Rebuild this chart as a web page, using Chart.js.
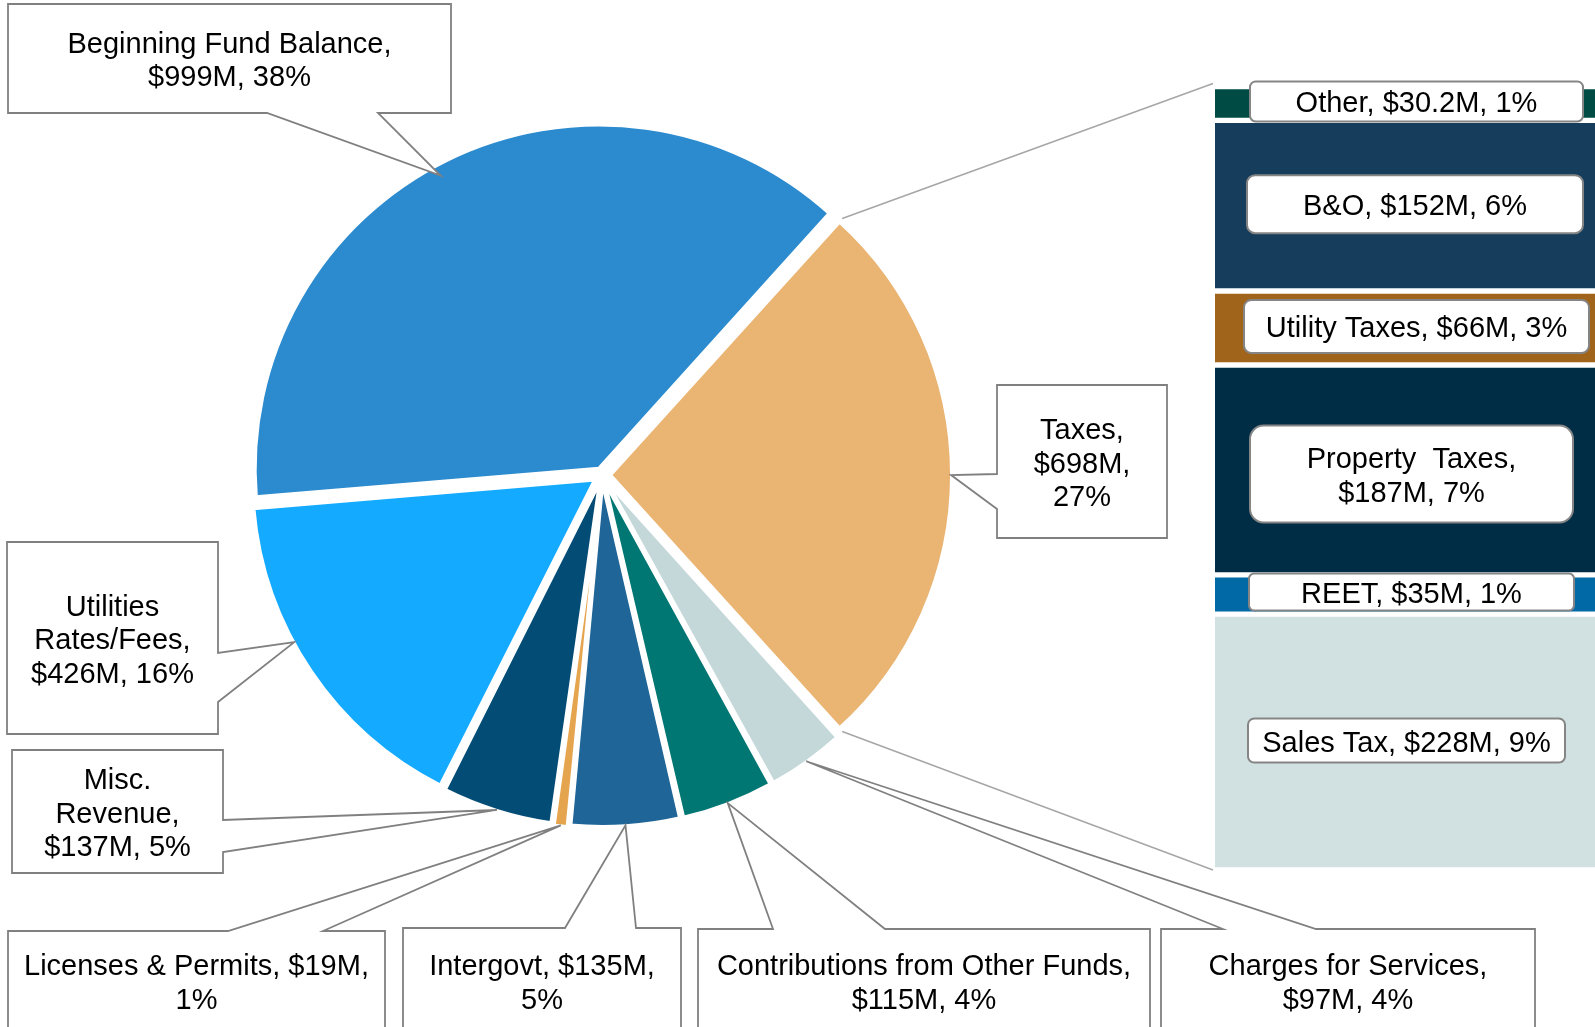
<!DOCTYPE html>
<html>
<head>
<meta charset="utf-8">
<script src="https://cdn.jsdelivr.net/npm/chart.js@4.4.1/dist/chart.umd.min.js"></script>
<style>
  html, body { margin: 0; padding: 0; background: #fff; }
  body { width: 1595px; height: 1027px; position: relative; overflow: hidden; }
  #pie { position: absolute; left: 0; top: 0; }
  #bar { position: absolute; left: 1215px; top: 70px; }
</style>
</head>
<body>
<canvas id="pie" width="1595" height="1027"></canvas>
<canvas id="bar" width="380" height="820"></canvas>
<script>
// pie slices, clockwise starting with Taxes
const pieNames = ['Taxes', 'Charges for Services', 'Contributions from Other Funds', 'Intergovt',
  'Licenses & Permits', 'Misc. Revenue', 'Utilities Rates/Fees', 'Beginning Fund Balance'];
const pieValues = [698, 97, 115, 135, 19, 137, 426, 999]; // $M
const pieColors = ['#eab472', '#c4d8d9', '#017773', '#1f6597', '#e5a54f', '#034c75', '#14aaff', '#2b8bce'];

// taxes breakdown, top to bottom of the column
const taxNames = ['Other', 'B&O', 'Utility Taxes', 'Property  Taxes', 'REET', 'Sales Tax'];
const taxValues = [30.2, 152, 66, 187, 35, 228]; // $M
const taxColors = ['#004c45', '#163d5b', '#a0651b', '#002d46', '#0069a6', '#d1e1e1'];

const total = pieValues.reduce((a, b) => a + b, 0);
const taxTotal = taxValues.reduce((a, b) => a + b, 0);

const FONT = '29px "Liberation Sans", Arial, sans-serif';
const LINE_H = 33.5;
const TEXT_DY = 3;

// layout: how far each slice is pulled out (px)
const shift = [8, 6, 6, 6, 6, 6, 8, 7];
// callout boxes: [x, y, w, h, side of pointer, base1, base2, tip inset, tip angle tweak (deg)]
const callouts = [
  [997, 385, 170, 153, 'left', 474, 509, 0, 0],
  [1161, 929, 374, 104, 'top', 1223, 1316, 0, 0],
  [698, 929, 452, 104, 'top', 773, 885, 0, 0],
  [403, 928, 278, 106, 'top', 565, 636, 0, 0],
  [8, 931, 377, 100, 'top', 228, 323, 0, 0],
  [12, 750, 211, 123, 'right', 820, 852, 0, 0],
  [7, 542, 211, 192, 'right', 653, 702, 0, 5.5],
  [8, 4, 443, 109, 'bottom', 267, 378, 10, -2]
];
// bar label boxes: [w, h, dx, dy]
const taxBoxes = [
  [333, 40, 11.5, -2], [336, 58, 10, -1.5], [345, 53, 11.5, -1.5],
  [323, 97, 6.5, 4], [325, 37, 6.5, -2.5], [317, 44, 1.5, -1.5]
];

const pct = v => Math.round(v / total * 100) + '%';
const labelText = (n, v) => `${n}, $${v}M, ${pct(v)}`;

function wrap(ctx, text, maxW) {
  const words = text.split(' ');
  const lines = [];
  let line = '';
  words.forEach(w => {
    const test = line === '' ? w : line + ' ' + w;
    if (line !== '' && ctx.measureText(test).width > maxW) {
      lines.push(line);
      line = w;
    } else {
      line = test;
    }
  });
  lines.push(line);
  return lines;
}

function drawLines(ctx, lines, cx, cy) {
  ctx.fillStyle = '#000';
  ctx.textAlign = 'center';
  ctx.textBaseline = 'middle';
  const y0 = cy - (lines.length - 1) * LINE_H / 2 + TEXT_DY;
  lines.forEach((l, i) => ctx.fillText(l, cx, y0 + i * LINE_H));
}

const barLabelPlugin = {
  id: 'barLabels',
  afterDatasetsDraw(chart) {
    const ctx = chart.ctx;
    ctx.save();
    ctx.font = FONT;
    taxNames.forEach((name, i) => {
      const el = chart.getDatasetMeta(taxNames.length - 1 - i).data[0];
      const [w, h, dx, dy] = taxBoxes[i];
      const cx = el.x + dx;
      const cy = (el.y + el.base) / 2 + dy;
      ctx.beginPath();
      ctx.roundRect(cx - w / 2, cy - h / 2, w, h, h * 0.14);
      ctx.fillStyle = '#fff';
      ctx.fill();
      ctx.lineWidth = 2;
      ctx.strokeStyle = '#858585';
      ctx.stroke();
      drawLines(ctx, wrap(ctx, labelText(name, taxValues[i]), w - 12), cx, cy);
    });
    ctx.restore();
  }
};

const barChart = new Chart(document.getElementById('bar'), {
  type: 'bar',
  data: {
    labels: ['Taxes'],
    datasets: taxNames.map((n, i) => ({
      label: n,
      data: [taxValues[i]],
      backgroundColor: taxColors[i]
    })).reverse()
  },
  options: {
    responsive: false,
    animation: false,
    layout: { padding: { top: 16.5, bottom: 20, left: 0, right: 0 } },
    datasets: {
      bar: {
        barPercentage: 1,
        categoryPercentage: 1,
        borderColor: '#fff',
        borderWidth: { top: 3, bottom: 3, left: 0, right: 0 },
        borderSkipped: false
      }
    },
    scales: {
      x: { stacked: true, display: false },
      y: { stacked: true, display: false, min: 0, max: taxTotal }
    },
    plugins: { legend: { display: false }, tooltip: { enabled: false } }
  },
  plugins: [barLabelPlugin]
});

// Chart.js v4 arc: translation = offset/4, radius grows by offset/4 * fix
const arcFix = v => 1 - Math.sin(Math.min(Math.PI, v / total * 2 * Math.PI));
const pieOffsets = shift.map(s => s * 4);

const calloutPlugin = {
  id: 'callouts',
  afterDraw(chart) {
    const ctx = chart.ctx;
    const arcs = chart.getDatasetMeta(0).data;
    ctx.save();

    // connector lines from the Taxes slice to the column
    const t = arcs[0];
    const tm = (t.startAngle + t.endAngle) / 2;
    const tx = t.x + Math.cos(tm) * shift[0];
    const ty = t.y + Math.sin(tm) * shift[0];
    const topEl = barChart.getDatasetMeta(taxNames.length - 1).data[0];
    const botEl = barChart.getDatasetMeta(0).data[0];
    const bx = barChart.canvas.offsetLeft + topEl.x - topEl.width / 2 - 2;
    const by = barChart.canvas.offsetTop;
    ctx.strokeStyle = '#a6a6a6';
    ctx.lineWidth = 1.5;
    ctx.beginPath();
    ctx.moveTo(tx + Math.cos(t.startAngle) * (t.outerRadius + 4), ty + Math.sin(t.startAngle) * (t.outerRadius + 4));
    ctx.lineTo(bx, by + topEl.y - 3);
    ctx.moveTo(tx + Math.cos(t.endAngle) * (t.outerRadius + 4), ty + Math.sin(t.endAngle) * (t.outerRadius + 4));
    ctx.lineTo(bx, by + botEl.base);
    ctx.stroke();

    ctx.font = FONT;
    arcs.forEach((arc, i) => {
      const [x, y, w, h, side, b1, b2, inset, tweak] = callouts[i];
      const mid = (arc.startAngle + arc.endAngle) / 2 + tweak * Math.PI / 180;
      const r = arc.outerRadius + shift[i] * (1 + arcFix(pieValues[i])) - 1 - inset;
      const px = arc.x + Math.cos(mid) * r;
      const py = arc.y + Math.sin(mid) * r;

      ctx.beginPath();
      if (side === 'top') {
        ctx.moveTo(x, y); ctx.lineTo(b1, y); ctx.lineTo(px, py); ctx.lineTo(b2, y);
        ctx.lineTo(x + w, y); ctx.lineTo(x + w, y + h); ctx.lineTo(x, y + h);
      } else if (side === 'bottom') {
        ctx.moveTo(x, y); ctx.lineTo(x + w, y); ctx.lineTo(x + w, y + h);
        ctx.lineTo(b2, y + h); ctx.lineTo(px, py); ctx.lineTo(b1, y + h); ctx.lineTo(x, y + h);
      } else if (side === 'left') {
        ctx.moveTo(x, y); ctx.lineTo(x + w, y); ctx.lineTo(x + w, y + h); ctx.lineTo(x, y + h);
        ctx.lineTo(x, b2); ctx.lineTo(px, py); ctx.lineTo(x, b1);
      } else {
        ctx.moveTo(x, y); ctx.lineTo(x + w, y); ctx.lineTo(x + w, b1); ctx.lineTo(px, py);
        ctx.lineTo(x + w, b2); ctx.lineTo(x + w, y + h); ctx.lineTo(x, y + h);
      }
      ctx.closePath();
      ctx.fillStyle = '#fff';
      ctx.fill();
      ctx.lineWidth = 1.8;
      ctx.strokeStyle = '#808080';
      ctx.lineJoin = 'miter';
      ctx.stroke();

      drawLines(ctx, wrap(ctx, labelText(pieNames[i], pieValues[i]), w - 20), x + w / 2, y + h / 2);
    });
    ctx.restore();
  }
};

new Chart(document.getElementById('pie'), {
  type: 'pie',
  data: {
    labels: pieNames,
    datasets: [{
      data: pieValues,
      backgroundColor: pieColors,
      borderColor: '#fff',
      borderWidth: 4,
      offset: pieOffsets
    }]
  },
  options: {
    responsive: false,
    animation: false,
    rotation: 90 - pieValues[0] / total * 180,
    radius: 342,
    layout: { padding: { left: 242, right: 633, top: 115, bottom: 192 } },
    plugins: { legend: { display: false }, tooltip: { enabled: false } }
  },
  plugins: [calloutPlugin]
});
</script>
</body>
</html>
